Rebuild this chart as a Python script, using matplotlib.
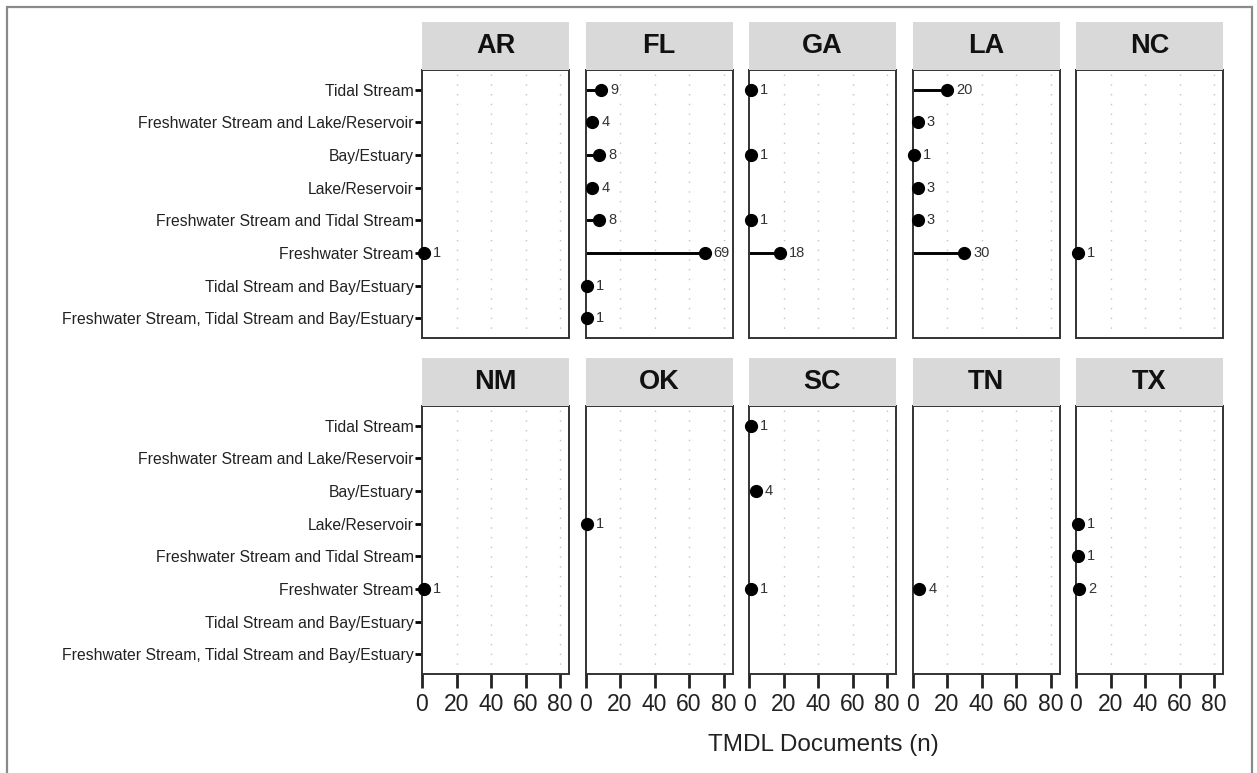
import matplotlib
matplotlib.use("Agg")
import matplotlib.pyplot as plt
from matplotlib.patches import Rectangle

plt.rcParams["font.family"] = ["Liberation Sans", "DejaVu Sans"]

categories = [
    "Tidal Stream",
    "Freshwater Stream and Lake/Reservoir",
    "Bay/Estuary",
    "Lake/Reservoir",
    "Freshwater Stream and Tidal Stream",
    "Freshwater Stream",
    "Tidal Stream and Bay/Estuary",
    "Freshwater Stream, Tidal Stream and Bay/Estuary",
]

# document counts per state, in the order of categories (0 = none)
states = ["AR", "FL", "GA", "LA", "NC", "NM", "OK", "SC", "TN", "TX"]
AR = [0, 0, 0, 0, 0, 1, 0, 0]
FL = [9, 4, 8, 4, 8, 69, 1, 1]
GA = [1, 0, 1, 0, 1, 18, 0, 0]
LA = [20, 3, 1, 3, 3, 30, 0, 0]
NC = [0, 0, 0, 0, 0, 1, 0, 0]
NM = [0, 0, 0, 0, 0, 1, 0, 0]
OK = [0, 0, 0, 1, 0, 0, 0, 0]
SC = [1, 0, 4, 0, 0, 1, 0, 0]
TN = [0, 0, 0, 0, 0, 4, 0, 0]
TX = [0, 0, 0, 1, 1, 2, 0, 0]
counts = [AR, FL, GA, LA, NC, NM, OK, SC, TN, TX]

xticks = [0, 20, 40, 60, 80]

W, H = 1257, 773
fig = plt.figure(figsize=(W / 100, H / 100), dpi=100)

# grey frame round the figure (runs off the bottom edge)
fig.patches.append(Rectangle((7 / W, -10 / H), 1245 / W, (H + 3) / H,
                             transform=fig.transFigure, fill=False,
                             edgecolor="#8a8a8a", linewidth=1.6))

col_left = [422, 585.5, 749, 912.5, 1076]
panel_w = 147
row_top = [70, 406]
panel_h = 268
strip_h = 48


def px_rect(left, top, w, h):
    return [left / W, 1 - (top + h) / H, w / W, h / H]


for k, st in enumerate(states):
    r, c = divmod(k, 5)
    left, top = col_left[c], row_top[r]
    ax = fig.add_axes(px_rect(left, top, panel_w, panel_h))
    ax.set_xlim(0, 85.2)
    ax.set_ylim(len(categories) - 0.4, -0.6)

    for x in xticks[1:]:
        ax.axvline(x, color="#c4c4c4", linewidth=1.0, linestyle=(0, (1, 6)), zorder=0)

    vals = counts[k]
    for i, v in enumerate(vals):
        if v == 0:
            continue
        ax.plot([0, v], [i, i], color="black", linewidth=2.1, solid_capstyle="butt",
                zorder=2, clip_on=False)
        ax.plot(v, i, "o", color="black", markersize=8.5, zorder=3, clip_on=False)
        ax.annotate(str(v), (v, i), xytext=(6.5, 0), textcoords="offset points",
                    va="center", ha="left", fontsize=10.5, color="#333333")

    for s in ax.spines.values():
        s.set_color("#333333")
        s.set_linewidth(1.4)

    ax.set_yticks(range(len(categories)))
    if c == 0:
        ax.set_yticklabels(categories, fontsize=11.3, color="#222222")
        ax.tick_params(axis="y", length=5, width=2, color="black", pad=1)
    else:
        ax.set_yticklabels([])
        ax.tick_params(axis="y", length=0)

    ax.set_xticks(xticks)
    if r == 1:
        ax.set_xticklabels([str(x) for x in xticks], fontsize=16.5, color="#222222")
        ax.tick_params(axis="x", length=10, width=2, color="#222222", pad=4)
    else:
        ax.set_xticklabels([])
        ax.tick_params(axis="x", length=0)

    # facet strip
    sax = fig.add_axes(px_rect(left, top - strip_h, panel_w, strip_h))
    sax.set_facecolor("#d9d9d9")
    sax.set_xticks([])
    sax.set_yticks([])
    for s in sax.spines.values():
        s.set_visible(False)
    sax.text(0.5, 0.5, st, transform=sax.transAxes, ha="center", va="center",
             fontsize=19.5, fontweight="bold", color="#111111")

fig.text(823 / W, 1 - 745 / H, "TMDL Documents (n)", ha="center", va="center",
         fontsize=17.5, color="#222222")

fig.savefig("out.png", dpi=100, facecolor="white")
